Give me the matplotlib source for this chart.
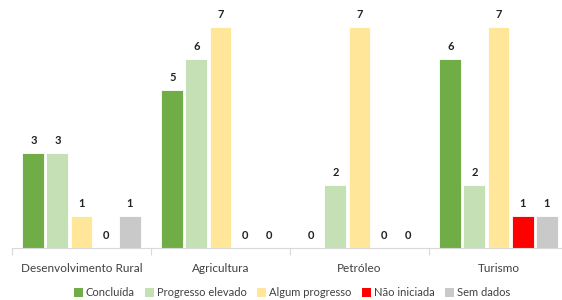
import numpy as np
import matplotlib
matplotlib.use("Agg")
import matplotlib.pyplot as plt
from matplotlib.patches import Patch

plt.rcParams['font.family'] = ['Lato', 'DejaVu Sans']

categories = ['Desenvolvimento Rural', 'Agricultura', 'Petróleo', 'Turismo']
series = ['Concluída', 'Progresso elevado', 'Algum progresso', 'Não iniciada', 'Sem dados']
values = {
    'Concluída':         [3, 5, 0, 6],
    'Progresso elevado': [3, 6, 2, 2],
    'Algum progresso':   [1, 7, 7, 7],
    'Não iniciada':      [0, 0, 0, 1],
    'Sem dados':         [1, 0, 0, 1],
}
colors = ['#70AD47', '#C5E0B4', '#FFE699', '#FF0000', '#C9C9C9']

fig = plt.figure(figsize=(5.62, 3.0), dpi=100)
ax = fig.add_axes([12 / 562, 52 / 300, 556 / 562, 240 / 300])

x = np.arange(len(categories))
step = 0.173
width = 0.158
for i, (name, col) in enumerate(zip(series, colors)):
    pos = x + (i - 2) * step
    vals = values[name]
    ax.bar(pos, vals, width=width, color=col, edgecolor='white', linewidth=0.6, zorder=2)
    for px, v in zip(pos, vals):
        ax.text(px, v + 0.22, str(v), ha='center', va='bottom',
                fontsize=8, fontweight='bold', color='#222222')

ax.set_xlim(-0.5, len(categories) - 0.5)
ax.set_ylim(0, 7.6)
ax.set_yticks([])
for s in ['top', 'right', 'left']:
    ax.spines[s].set_visible(False)
ax.spines['bottom'].set_color('#D9D9D9')
ax.spines['bottom'].set_linewidth(0.8)

# separators between categories
ax.set_xticks(np.arange(len(categories) + 1) - 0.5, minor=True)
ax.tick_params(axis='x', which='minor', length=5, color='#D9D9D9', width=0.8)
ax.set_xticks(x)
ax.set_xticklabels(categories, fontsize=8.5, color='#404040')
ax.tick_params(axis='x', which='major', length=0, pad=11)

handles = [Patch(facecolor=c, edgecolor='none') for c in colors]
fig.legend(handles, series, loc='center', bbox_to_anchor=(292 / 562, 1 - 293 / 300),
           ncol=5, frameon=False, fontsize=8, handlelength=0.8, handleheight=0.8,
           handletextpad=0.25, columnspacing=0.95, labelcolor='#404040')

fig.savefig('out.png', dpi=100)
